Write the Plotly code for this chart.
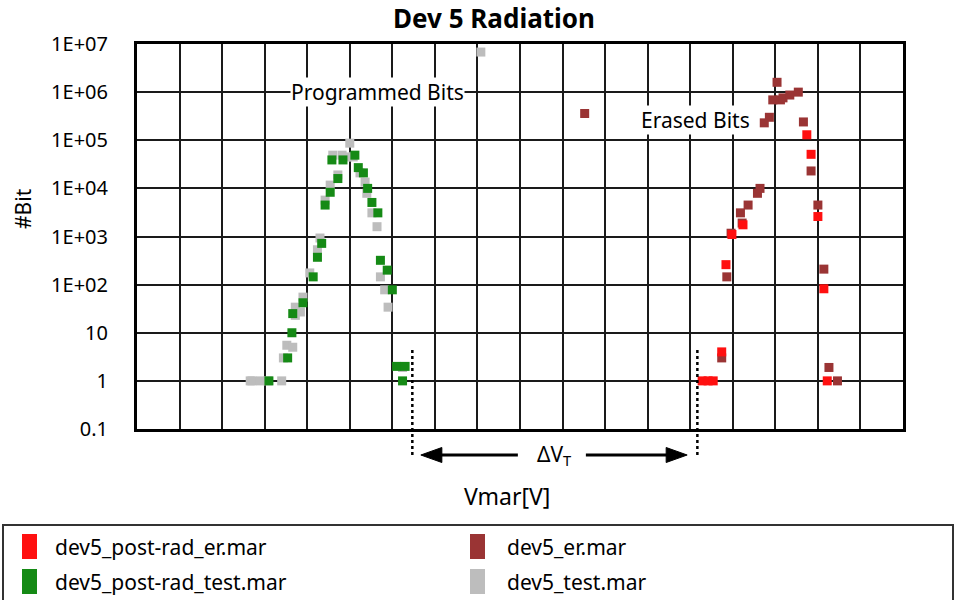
import plotly.graph_objects as go

# ---------------- data ----------------
# x in volts (grid step 0.5 V, no tick labels shown), y = number of bits
post_rad_er_x = [6.64, 6.71, 6.77, 6.87, 6.92, 6.99, 7.12, 7.87, 7.92, 8.00, 8.07, 8.11]
post_rad_er_y = [1, 1, 1, 4, 260, 1100, 1750, 130000, 51000, 2600, 82, 1]

er_x = [5.26, 6.87, 6.93, 6.98, 7.09, 7.11, 7.18, 7.29, 7.32, 7.37, 7.43, 7.47, 7.52,
        7.56, 7.59, 7.67, 7.77, 7.83, 7.92, 8.00, 8.07, 8.13, 8.23]
er_y = [360000, 3, 145, 1170, 3100, 1900, 4500, 7900, 10000, 230000, 300000, 690000, 1600000,
        690000, 760000, 870000, 1000000, 240000, 23000, 4500, 210, 1.9, 1]

post_rad_test_x = [1.55, 1.77, 1.82, 1.83, 1.95, 2.07, 2.12, 2.17, 2.21, 2.27, 2.29, 2.36,
                   2.42, 2.56, 2.60, 2.66, 2.71, 2.76, 2.83, 2.86, 2.94, 3.00, 3.05, 3.15, 3.12]
post_rad_test_y = [1, 3, 10, 25, 42, 145, 370, 720, 4500, 8300, 39000, 16000,
                   39000, 49000, 27000, 21000, 10000, 5100, 3100, 320, 200, 78, 2, 2, 1]

test_x = [1.33, 1.35, 1.45, 1.54, 1.70, 1.72, 1.76, 1.83, 1.86, 1.86, 1.92, 1.95, 2.03,
          2.12, 2.15, 2.21, 2.27, 2.30, 2.36, 2.41, 2.47, 2.50, 2.54, 2.62, 2.68, 2.70,
          2.76, 2.82, 2.86, 2.91, 2.95, 3.12, 4.04]
test_y = [1, 1, 1, 1, 1, 3, 5.5, 5, 23, 34, 27, 55, 175,
          530, 930, 5700, 11700, 49000, 19000, 49000, 45000, 87000, 45000, 21000, 13500, 7900,
          3100, 1600, 145, 78, 34, 1.9, 6800000]

series_names = ["dev5_post-rad_er.mar", "dev5_er.mar", "dev5_post-rad_test.mar", "dev5_test.mar"]
series_colors = ["#ff1010", "#9a3434", "#158a15", "#bdbdbd"]

y_tick_vals = [0.1, 1, 10, 100, 1e3, 1e4, 1e5, 1e6, 1e7]
y_tick_text = ["0.1", "1", "10", "1E+02", "1E+03", "1E+04", "1E+05", "1E+06", "1E+07"]

x_range = [0, 9]
x_grid_step = 0.5
delta_vt_left = 3.235   # dotted bound of the programmed distribution
delta_vt_right = 6.584  # dotted bound of the erased distribution

# ---------------- figure ----------------
W, H = 956, 600
ML, MR, MT, MB = 137, 53, 44, 171
PW, PH = W - ML - MR, H - MT - MB
FONT = "Noto Sans"


def px(xp):
    return (xp - ML) / PW


def py(yp):
    return (H - MB - yp) / PH


fig = go.Figure()
all_series = [
    (post_rad_er_x, post_rad_er_y),
    (er_x, er_y),
    (post_rad_test_x, post_rad_test_y),
    (test_x, test_y),
]
draw_order = [1, 0, 3, 2]
for i in draw_order:
    xs, ys = all_series[i]
    fig.add_trace(go.Scatter(
        x=xs, y=ys, mode="markers", name=series_names[i],
        marker=dict(symbol="square", size=9, color=series_colors[i], line=dict(width=0)),
        showlegend=False,
    ))

fig.update_layout(
    width=W, height=H,
    margin=dict(l=ML, r=MR, t=MT, b=MB, pad=0),
    paper_bgcolor="white", plot_bgcolor="white",
    font=dict(family=FONT, size=20, color="black"),
    title=dict(text="<b>Dev 5 Radiation</b>", x=494 / W, xref="container", xanchor="center",
               y=1 - 19 / H, yref="container", yanchor="middle",
               font=dict(family=FONT, size=26, color="black")),
)
fig.update_xaxes(range=x_range, dtick=x_grid_step, tick0=0, showticklabels=False,
                 showgrid=True, gridcolor="#1a1a1a", gridwidth=1.6, zeroline=False,
                 showline=True, linecolor="black", linewidth=3, mirror=True, ticks="")
fig.update_yaxes(type="log", range=[-1, 7], tickvals=y_tick_vals, ticktext=y_tick_text,
                 showgrid=True, gridcolor="#1a1a1a", gridwidth=1.6, zeroline=False,
                 showline=True, linecolor="black", linewidth=3, mirror=True,
                 ticks="", ticklabelstandoff=22, tickfont=dict(size=20))

arrow_y = py(455)
ann = []
ann.append(dict(text="Programmed Bits", x=2.83, y=6.0, xref="x", yref="y", showarrow=False,
                bgcolor="white", font=dict(size=21), borderpad=0))
ann.append(dict(text="Erased Bits", x=6.56, y=5.42, xref="x", yref="y", showarrow=False,
                bgcolor="white", font=dict(size=21), borderpad=0))
ann.append(dict(text="ΔV<sub>T</sub>", x=(delta_vt_left + delta_vt_right) / 2 - 0.01, y=arrow_y,
                xref="x", yref="paper", xanchor="center", yanchor="middle",
                showarrow=False, font=dict(size=21)))
ann.append(dict(text="Vmar[V]", x=px(507), y=py(496), xref="paper", yref="paper",
                xanchor="center", yanchor="middle", showarrow=False, font=dict(size=23)))
ann.append(dict(text="#Bit", x=px(23), y=py(209), xref="paper", yref="paper",
                xanchor="center", yanchor="middle", showarrow=False, textangle=-90,
                font=dict(size=21)))

shapes = []
for xv in (delta_vt_left, delta_vt_right):
    shapes.append(dict(type="line", xref="x", yref="paper", x0=xv, x1=xv,
                       y0=py(350), y1=py(458), line=dict(color="black", width=2.5, dash="dot")))

# ΔV_T double arrow: two shafts and two filled heads (head sizes in pixels)
left_tip, left_tail = delta_vt_left + 0.1, delta_vt_left + 1.24
right_tip, right_tail = delta_vt_right - 0.12, delta_vt_right - 1.31
shapes.append(dict(type="line", xref="x", yref="paper", x0=left_tip + 0.15, x1=left_tail,
                   y0=arrow_y, y1=arrow_y, line=dict(color="black", width=3)))
shapes.append(dict(type="line", xref="x", yref="paper", x0=right_tail, x1=right_tip - 0.15,
                   y0=arrow_y, y1=arrow_y, line=dict(color="black", width=3)))
shapes.append(dict(type="path", xref="x", yref="paper", xsizemode="pixel", ysizemode="pixel",
                   xanchor=left_tip, yanchor=arrow_y, path="M0,0 L21,7.5 L21,-7.5 Z",
                   fillcolor="black", line=dict(color="black", width=1)))
shapes.append(dict(type="path", xref="x", yref="paper", xsizemode="pixel", ysizemode="pixel",
                   xanchor=right_tip, yanchor=arrow_y, path="M0,0 L-21,7.5 L-21,-7.5 Z",
                   fillcolor="black", line=dict(color="black", width=1)))

# manual legend (box, swatches, labels)
shapes.append(dict(type="rect", xref="paper", yref="paper", x0=px(3), x1=px(953),
                   y0=py(525), y1=py(640), line=dict(color="#333333", width=2), fillcolor="white",
                   layer="below"))
legend_pos = [(22, 546.5, 53), (470, 546.5, 505), (22, 581.5, 53), (470, 581.5, 505)]
for i, (sx, sy, tx) in enumerate(legend_pos):
    shapes.append(dict(type="rect", xref="paper", yref="paper", x0=px(sx), x1=px(sx + 15),
                       y0=py(sy - 12.5), y1=py(sy + 12.5), line=dict(width=0),
                       fillcolor=series_colors[i]))
    ann.append(dict(text=series_names[i], x=px(tx), y=py(sy), xref="paper", yref="paper",
                    xanchor="left", yanchor="middle", showarrow=False, font=dict(size=21)))

fig.update_layout(annotations=ann, shapes=shapes)
fig.write_html("out.html", config={"displayModeBar": False},
               post_script="document.body.style.margin='0';document.body.style.overflow='hidden';")
